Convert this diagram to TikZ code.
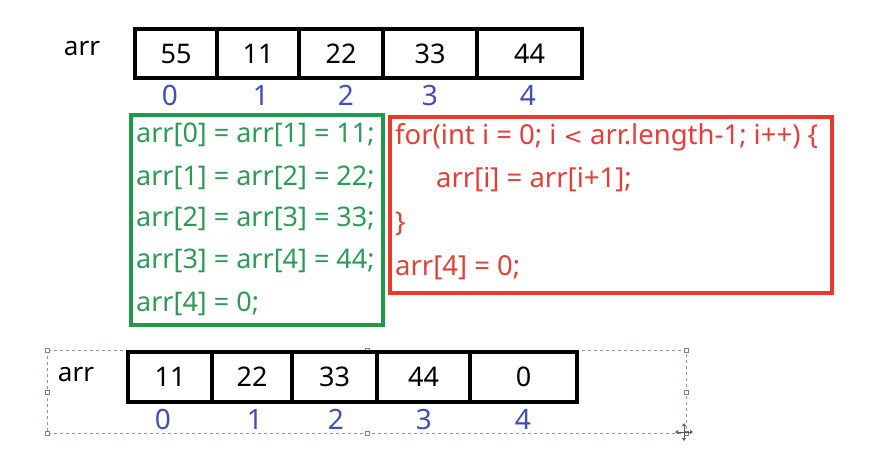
\documentclass[tikz,border=0pt]{standalone}
\usepackage{fontspec}
\setmainfont{Noto Sans}
\usetikzlibrary{arrows.meta}
\definecolor{idxblue}{HTML}{3E4FB5}
\definecolor{grn}{HTML}{1F9A4C}
\definecolor{grntxt}{HTML}{2E9A55}
\definecolor{rd}{HTML}{E8392C}
\definecolor{rdtxt}{HTML}{E0403A}
\definecolor{selblue}{HTML}{7A9CC6}
\tikzset{
  cell/.style={draw=black, line width=3.6pt, minimum height=#1, inner sep=0pt, font=\fontsize{27}{27}\selectfont},
  idx/.style={text=idxblue, font=\fontsize{28}{28}\selectfont, inner sep=0pt},
  lbl/.style={font=\fontsize{26}{26}\selectfont, inner sep=0pt},
  gline/.style={text=grntxt, anchor=west, inner sep=0pt, font=\fontsize{27}{28}\selectfont},
  rline/.style={text=rdtxt, anchor=west, inner sep=0pt, font=\fontsize{27.5}{28}\selectfont},
  handle/.style={draw=gray, fill=white, line width=0.5pt, minimum size=4pt, inner sep=0pt},
}
\begin{document}
\begin{tikzpicture}[x=1pt,y=-1pt]
\useasboundingbox (0,0) rectangle (873,459);
% top array
\node[lbl] (lab1) at (82,49) {arr};
\node[cell=49pt, minimum width=82pt] (t0) at (176,53.5) {55};
\node[cell=49pt, minimum width=82pt] (t1) at (258,53.5) {11};
\node[cell=49pt, minimum width=84pt] (t2) at (341,53.5) {22};
\node[cell=49pt, minimum width=94pt] (t3) at (430,53.5) {33};
\node[cell=49pt, minimum width=105pt] (t4) at (529.5,53.5) {44};
\node[idx] (ti0) at (170,95) {0};
\node[idx] (ti1) at (261,95) {1};
\node[idx] (ti2) at (346,95) {2};
\node[idx] (ti3) at (430,95) {3};
\node[idx] (ti4) at (528,95) {4};
% green box
\node[draw=grn, line width=3.5pt, minimum width=252pt, minimum height=210pt, inner sep=0pt] (gbox) at (257,220) {};
\node[gline] (g1) at (136,135) {arr[0] = arr[1] = 11;};
\node[gline] (g2) at (136,178) {arr[1] = arr[2] = 22;};
\node[gline] (g3) at (136,219) {arr[2] = arr[3] = 33;};
\node[gline] (g4) at (136,261) {arr[3] = arr[4] = 44;};
\node[gline] (g5) at (136,304) {arr[4] = 0;};
% red box
\node[draw=rd, line width=3.5pt, minimum width=442pt, minimum height=176pt, inner sep=0pt] (rbox) at (611,205) {};
\node[rline] (r1) at (395,137) {for(int i = 0; i {\fontspec{DejaVu Sans}\fontsize{23}{28}\selectfont<} arr.length-1; i++) \{};
\node[rline] (r2) at (436,180) {arr[i] = arr[i+1];};
\node[rline] (r3) at (395,224) {\}};
\node[rline] (r4) at (395,268) {arr[4] = 0;};
% bottom selection frame
\draw[selblue, dashed, line width=0.7pt] (47,350) rectangle (686,433);
\foreach \p/\n in {{47,350}/h1,{367,350}/h2,{686,350}/h3,{47,392}/h4,{686,392}/h5,{47,433}/h6,{367,433}/h7,{686,433}/h8}
  \node[handle] (\n) at (\p) {};
% bottom array
\node[lbl] (lab2) at (76,375) {arr};
\node[cell=50pt, minimum width=84pt] (b0) at (170,377) {11};
\node[cell=50pt, minimum width=80pt] (b1) at (252,377) {22};
\node[cell=50pt, minimum width=85pt] (b2) at (334.5,377) {33};
\node[cell=50pt, minimum width=93pt] (b3) at (423.5,377) {44};
\node[cell=50pt, minimum width=107pt] (b4) at (523.5,377) {\raisebox{-3pt}{0}};
\node[idx] (bi0) at (163,419) {0};
\node[idx] (bi1) at (255,419) {1};
\node[idx] (bi2) at (336,419) {2};
\node[idx] (bi3) at (424,419) {3};
\node[idx] (bi4) at (523,419) {4};
% move cursor
\coordinate (cur) at (684,432);
\draw[gray!70!black, line width=0.9pt, -{Triangle[open,length=3pt,width=4pt]}] (cur) -- ++(0,-9);
\draw[gray!70!black, line width=0.9pt, -{Triangle[open,length=3pt,width=4pt]}] (cur) -- ++(0,9);
\draw[gray!70!black, line width=0.9pt, -{Triangle[open,length=3pt,width=4pt]}] (cur) -- ++(-9,0);
\draw[gray!70!black, line width=0.9pt, -{Triangle[open,length=3pt,width=4pt]}] (cur) -- ++(9,0);
\end{tikzpicture}
\end{document}
